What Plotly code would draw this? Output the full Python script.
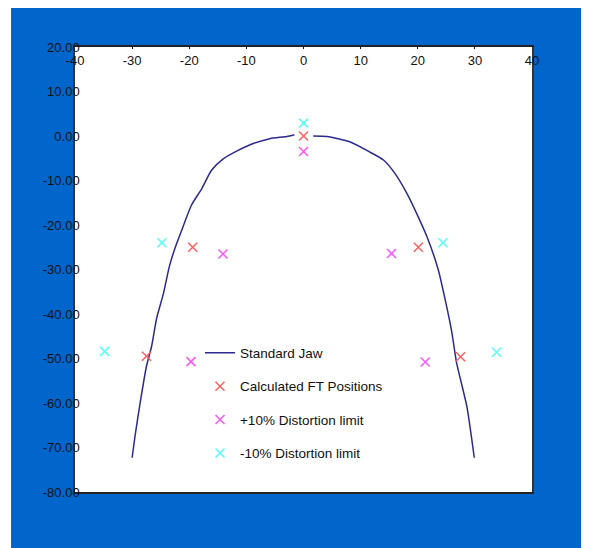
import plotly.graph_objects as go

# Standard jaw curve (left branch, gap at centre, right branch)
jaw_x = [-30.0, -29.5, -28.6, -27.5, -26.6, -25.7, -24.5, -23.5, -22.5, -21.3, -19.6, -17.8,
         -16.1, -14.0, -11.7, -8.8, -5.9, -2.9, -1.6, None,
         1.7, 4.1, 8.1, 11.6, 14.0, 16.0, 18.1, 19.8, 21.6, 23.6, 25.9, 26.8, 28.6, 29.9]
jaw_y = [-72.3, -67.5, -60.0, -51.8, -47.3, -40.9, -35.3, -29.4, -25.2, -21.1, -15.5, -11.8,
         -7.7, -5.1, -3.4, -1.7, -0.6, -0.1, 0.3, None,
         0.0, -0.1, -1.3, -3.6, -5.4, -8.4, -12.9, -17.4, -22.6, -30.1, -43.6, -51.0, -60.8, -72.3]

calc_x = [-27.5, -19.4, 0.0, 20.1, 27.5]
calc_y = [-49.5, -25.0, 0.0, -25.0, -49.6]

plus_x = [-19.7, -14.1, 0.0, 15.4, 21.3]
plus_y = [-50.7, -26.5, -3.5, -26.4, -50.8]

minus_x = [-34.8, -24.8, 0.0, 24.4, 33.8]
minus_y = [-48.4, -24.0, 2.9, -24.0, -48.6]

x_ticks = [-40, -30, -20, -10, 0, 10, 20, 30, 40]
y_ticks = [20, 10, 0, -10, -20, -30, -40, -50, -60, -70, -80]

FONT = "Liberation Sans, Arial, sans-serif"
BLUE = "#0066CC"

fig = go.Figure()
fig.add_trace(go.Scatter(x=jaw_x, y=jaw_y, mode="lines", name="Standard Jaw",
                         line=dict(color="#2B2B8F", width=1.5, shape="spline", smoothing=0.6),
                         legendgroup="a", connectgaps=False))
fig.add_trace(go.Scatter(x=calc_x, y=calc_y, mode="markers", name="Calculated FT Positions",
                         marker=dict(symbol="x-thin", size=9, line=dict(color="#FF6060", width=1.5)),
                         legendgroup="b"))
fig.add_trace(go.Scatter(x=plus_x, y=plus_y, mode="markers", name="+10% Distortion limit",
                         marker=dict(symbol="x-thin", size=9, line=dict(color="#FF55FF", width=1.5)),
                         legendgroup="c"))
fig.add_trace(go.Scatter(x=minus_x, y=minus_y, mode="markers", name="-10% Distortion limit",
                         marker=dict(symbol="x-thin", size=9, line=dict(color="#55FFFF", width=1.5)),
                         legendgroup="d"))

fig.update_layout(
    width=581, height=540,
    margin=dict(l=67, r=57, t=38.5, b=55.5, autoexpand=False),
    paper_bgcolor=BLUE, plot_bgcolor="white",
    font=dict(family=FONT, size=13, color="#111"),
    showlegend=True,
    legend=dict(x=0.2735, y=0.347, xanchor="left", yanchor="top",
                bgcolor="rgba(0,0,0,0)", borderwidth=0,
                font=dict(family=FONT, size=13.5, color="#111"),
                tracegroupgap=12.8),
    shapes=[
        dict(type="rect", xref="paper", yref="paper", x0=-0.3, x1=-0.140, y0=-0.3, y1=1.3,
             fillcolor="white", line=dict(width=0), layer="below"),
    ],
)
fig.update_xaxes(range=[-40, 40], side="top", tickvals=x_ticks, ticktext=[str(v) for v in x_ticks],
                 ticks="inside", ticklen=2, tickcolor="#111", ticklabelposition="inside",
                 ticklabelstandoff=7, ticklabeloverflow="allow",
                 showgrid=False, zeroline=False, showline=True, linecolor="#222", linewidth=1.5,
                 mirror=True, tickfont=dict(family=FONT, size=13, color="#111"))
fig.update_yaxes(range=[-80, 20], tickvals=y_ticks, ticktext=["%.2f" % v for v in y_ticks],
                 ticks="", ticklabelstandoff=-9, ticklabeloverflow="allow",
                 showgrid=False, zeroline=False, showline=True, linecolor="#333", linewidth=1.5,
                 mirror=True, tickfont=dict(family=FONT, size=13, color="#111"))

fig.write_html("out.html")
